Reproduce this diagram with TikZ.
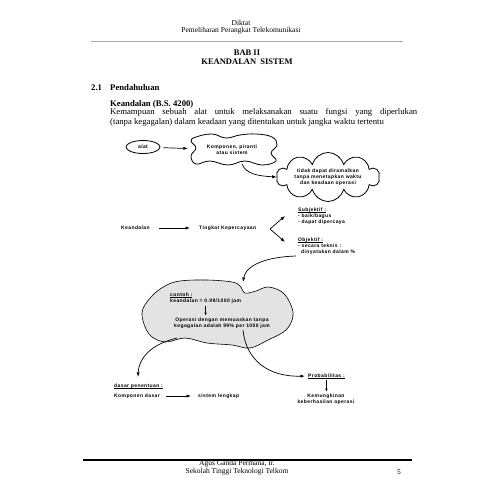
\documentclass[tikz,border=0pt]{standalone}
\usepackage{fontspec}
\setmainfont{Liberation Serif}
\newfontfamily\dfont[LetterSpace=8]{Liberation Sans Bold}
\usetikzlibrary{arrows.meta,shapes.symbols,shapes.geometric,calc}
\newcommand\myul[1]{\setbox0\hbox{#1}\rlap{\rule[-0.9pt]{\wd0}{0.35pt}}\box0}
\tikzset{
  hdr/.style={font=\fontsize{7.5}{8}\selectfont, inner sep=0pt},
  ttl/.style={font=\fontsize{8.5}{9}\selectfont\bfseries, inner sep=0pt},
  sec/.style={font=\fontsize{8.7}{9.5}\selectfont\bfseries, inner sep=0pt},
  body/.style={font=\fontsize{8.7}{9.6}\selectfont, inner sep=0pt},
  lbl/.style={font=\dfont\fontsize{5}{5.8}\selectfont, inner sep=0pt},
  arr/.style={-{Latex[length=4.5pt,width=3.2pt]}, line width=0.7pt},
  arrs/.style={-{Latex[length=3pt,width=2.4pt]}, line width=0.5pt},
  outl/.style={line width=0.8pt},
}
\begin{document}
\begin{tikzpicture}[x=1pt,y=-1pt]
\useasboundingbox (0,0) rectangle (495,495);
\fill[white] (0,0) rectangle (495,495);

% header
\node[hdr] (diktat) at (241,23) {Diktat};
\node[hdr] (pem) at (241,31) {Pemeliharan Perangkat Telekomunikasi};
\draw[gray!70, line width=0.6pt] (91,41) -- (403,41);
\node[ttl] (bab) at (247,53) {BAB II};
\node[ttl] (kea) at (247,62) {KEANDALAN\ \ SISTEM};

\node[sec, anchor=west] (num) at (91,88) {2.1};
\node[sec, anchor=west] (pend) at (110,88) {Pendahuluan};
\node[sec, anchor=west] (kb) at (110,104) {Keandalan (B.S. 4200)};
\node[body, anchor=north west, text width=307pt, align=justify] (para) at (110,108.5)
  {Kemampuan sebuah alat untuk melaksanakan suatu fungsi yang diperlukan\linebreak
   (tanpa kegagalan) dalam keadaan yang ditentukan untuk jangka waktu tertentu};

% alat -> komponen
\node[lbl, draw, outl, ellipse, minimum width=34pt, minimum height=13pt, inner sep=0pt] (alat) at (143,147) {alat};
\node[lbl, align=center, minimum width=84pt, minimum height=30pt] (kompo) at (232,150) {Komponen, piranti\\atau sistem};
\draw[outl] plot[smooth cycle, tension=0.7] coordinates {
  (196,137) (212,134) (226,138) (240,135) (256,134) (272,137) (277,145) (271,153) (276,161)
  (262,165) (245,161) (228,165) (210,161) (196,164) (191,156) (196,148) (191,141)};
\draw[arr, shorten <=3pt, shorten >=2pt] (alat) -- (kompo);

\node[lbl, draw, outl, cloud, cloud puffs=10, aspect=3.4, minimum width=103pt, minimum height=32pt, inner sep=0pt, align=center] (tidak) at (328,177)
  {tidak dapat diramalkan\\tanpa menetapkan waktu\\dan keadaan operasi};
\coordinate (c1) at (242,164);
\draw[arr] (c1) .. controls (246,174) and (258,176) .. (tidak.west);

% keandalan row
\node[lbl, anchor=west] (kd) at (121,228) {Keandalan};
\node[lbl, anchor=west] (tk) at (199,228) {Tingkat Kepercayaan};
\draw[arr, shorten <=9pt, shorten >=9pt] (kd.east) -- (tk.west);
\coordinate (v) at (270,229);
\coordinate (vs) at (285,216);
\coordinate (vo) at (285,242);
\draw[arr] (v) -- (vs);
\draw[arr] (v) -- (vo);
\node[lbl, anchor=north west, align=left] (subj) at (298,208)
  {\myul{Subjektif :}\\- baik/bagus\\- dapat dipercaya};
\node[lbl, anchor=north west, align=left] (obj) at (298,238)
  {\myul{Objektif :}\\- secara teknis :\\\hspace*{3pt}dinyatakan dalam \%};

% gray blob
\draw[fill=gray!22, line width=0.6pt] plot[smooth cycle, tension=0.6] coordinates {
  (142,313) (151,297) (165,286) (180,281) (207,280) (232,282) (240,286) (245,293)
  (256,291) (268,287) (282,292) (290,303) (293,316) (286,330) (268,340) (250,348)
  (232,345) (207,343) (185,338) (165,342) (149,334)};
\coordinate (o1) at (296,256);
\coordinate (g1) at (243,282);
\draw[arr] (o1) .. controls (266,257) and (246,265) .. (g1);

\node[lbl, anchor=west] (cth) at (170,295) {\myul{contoh :}};
\node[lbl, anchor=west] (kval) at (170,301) {keandalan = 0.99/1000 jam};
\node[lbl, align=center] (op) at (222,323) {Operasi dengan memuaskan tanpa\\kegagalan adalah 99\% per 1000 jam};
\draw[arrs] ($(kval.south)+(0,2)$) -- ($(kval.south |- op.north)+(0,-2)$);

% lower left
\coordinate (b1) at (177,338);
\coordinate (d1) at (138,377);
\draw[arr] (b1) .. controls (152,344) and (139,357) .. (d1);
\node[lbl, anchor=west] (dasar) at (114,386) {\myul{dasar penentuan :}};
\node[lbl, anchor=west] (kd2) at (114,396) {Komponen dasar};
\node[lbl, anchor=west] (sl) at (198,396) {sistem lengkap};
\draw[arr, shorten <=6pt, shorten >=7pt] (kd2.east) -- (sl.west);

% lower right
\node[lbl, anchor=west] (prob) at (308,376) {\myul{Probabilitas :}};
\coordinate (b2) at (243,330);
\draw[arr, shorten >=3pt] (b2) .. controls (246,360) and (268,377) .. (prob.west);
\node[lbl, align=center] (kem) at (326,399) {Kemungkinan\\keberhasilan operasi};
\draw[arrs] ($(prob.south)+(0,2)$) -- ($(prob.south |- kem.north)+(0,-2)$);

% footer
\draw[line width=1.5pt] (83,460) -- (412,460);
\node[hdr] (agus) at (237,464) {Agus Ganda Permana, Ir.};
\node[hdr] (stt) at (237,472) {Sekolah Tinggi Teknologi Telkom};
\node[hdr] (pg) at (399,472) {5};
\end{tikzpicture}
\end{document}
